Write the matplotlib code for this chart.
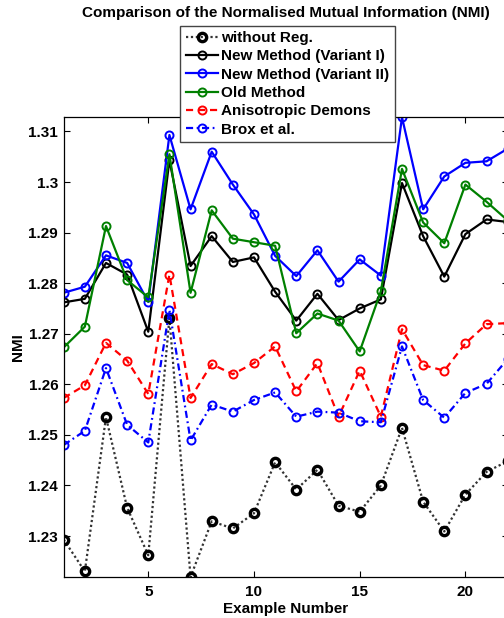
import matplotlib
matplotlib.use('Agg')
import matplotlib.pyplot as plt

examples = list(range(1, 23))
without_reg = [1.2293, 1.2230, 1.2535, 1.2356, 1.2262, 1.2731, 1.2219, 1.2329, 1.2315, 1.2345, 1.2446,
               1.2392, 1.2431, 1.2360, 1.2348, 1.2400, 1.2514, 1.2368, 1.2309, 1.2382, 1.2427, 1.2448]
variant1 = [1.2762, 1.2769, 1.2840, 1.2817, 1.2704, 1.3043, 1.2834, 1.2893, 1.2842, 1.2851, 1.2783,
            1.2726, 1.2779, 1.2727, 1.2750, 1.2768, 1.2998, 1.2893, 1.2813, 1.2897, 1.2926, 1.2921]
variant2 = [1.2781, 1.2793, 1.2855, 1.2840, 1.2763, 1.3093, 1.2946, 1.3060, 1.2995, 1.2936, 1.2854,
            1.2814, 1.2865, 1.2803, 1.2847, 1.2815, 1.3128, 1.2946, 1.3011, 1.3038, 1.3041, 1.3066]
old_method = [1.2673, 1.2714, 1.2913, 1.2806, 1.2772, 1.3055, 1.2781, 1.2944, 1.2888, 1.2881, 1.2874,
              1.2701, 1.2740, 1.2726, 1.2665, 1.2784, 1.3026, 1.2920, 1.2879, 1.2995, 1.2961, 1.2924]
aniso_demons = [1.2573, 1.2598, 1.2682, 1.2647, 1.2581, 1.2817, 1.2573, 1.2640, 1.2620, 1.2642, 1.2675,
                1.2586, 1.2642, 1.2536, 1.2627, 1.2536, 1.2709, 1.2638, 1.2627, 1.2681, 1.2719, 1.2721]
brox = [1.2480, 1.2508, 1.2632, 1.2520, 1.2485, 1.2747, 1.2489, 1.2560, 1.2546, 1.2569, 1.2584,
        1.2536, 1.2546, 1.2544, 1.2527, 1.2525, 1.2675, 1.2569, 1.2534, 1.2583, 1.2601, 1.2650]

labels = ["without Reg.", "New Method (Variant I)", "New Method (Variant II)",
          "Old Method", "Anisotropic Demons", "Brox et al."]
xticks = [5, 10, 15, 20]
yticks = [1.23, 1.24, 1.25, 1.26, 1.27, 1.28, 1.29, 1.30, 1.31]

plt.rcParams['font.family'] = ['Liberation Sans', 'DejaVu Sans']
plt.rcParams['font.weight'] = 'bold'

W, H = 504, 618
fig = plt.figure(figsize=(W / 100, H / 100), dpi=100)
left, right, top, bottom = 63.7, 507.7, 117.3, 577.0
ax = fig.add_axes([left / W, 1 - bottom / H, (right - left) / W, (bottom - top) / H])

green = (0.0, 0.5, 0.0)
lw = 1.6
ms = 5.8
mew = 1.4
fs = 11

ax.plot(examples, without_reg, linestyle=(0, (1, 1.2)), color='#333333', lw=1.6,
        marker='o', ms=6, mew=2.4, mfc='none', mec='black', label=labels[0])
ax.plot(examples, variant1, '-', color='black', lw=lw, marker='o', ms=ms, mew=mew,
        mfc='none', label=labels[1])
ax.plot(examples, variant2, '-', color='blue', lw=lw, marker='o', ms=ms, mew=mew,
        mfc='none', label=labels[2])
ax.plot(examples, old_method, '-', color=green, lw=lw, marker='o', ms=ms, mew=mew,
        mfc='none', label=labels[3])
ax.plot(examples, aniso_demons, linestyle=(0, (3.2, 2.2)), color='red', lw=lw, marker='o', ms=ms,
        mew=mew, mfc='none', label=labels[4])
ax.plot(examples, brox, linestyle=(0, (3.2, 1.6, 0.8, 1.6)), color='blue', lw=lw, marker='o', ms=ms,
        mew=mew, mfc='none', label=labels[5])

allv = without_reg + variant1 + variant2 + old_method + aniso_demons + brox
ax.set_xlim(examples[0], examples[-1])
ax.set_ylim(min(allv), max(allv))

ax.set_xticks(xticks)
ax.set_yticks(yticks)
ax.set_yticklabels([f'{v:g}' for v in yticks])
ax.tick_params(direction='in', top=True, right=True, length=4.5, width=0.8,
               labelsize=fs, pad=4)
ax.tick_params(axis='x', pad=5.5)
for t in ax.get_xticklabels() + ax.get_yticklabels():
    t.set_fontweight('bold')
for s in ax.spines.values():
    s.set_linewidth(0.9)

ax.set_xlabel('Example Number', fontsize=fs, fontweight='bold', labelpad=2.5)
ax.set_ylabel('NMI', fontsize=fs, fontweight='bold', va='center')
ax.yaxis.set_label_coords((18 - left) / (right - left), 0.5)
fig.text((left + right) / 2 / W, 1 - 13.5 / H,
         'Comparison of the Normalised Mutual Information (NMI)',
         ha='center', va='center', fontsize=fs, fontweight='bold')

leg = ax.legend(loc='upper left', bbox_to_anchor=(180 / W, 1 - 25.7 / H),
                bbox_transform=fig.transFigure, borderaxespad=0,
                frameon=True, fancybox=False, framealpha=1, edgecolor='#444444',
                handlelength=2.1, handletextpad=0.25, labelspacing=0.28,
                borderpad=0.36, numpoints=1, prop={'weight': 'bold', 'size': fs})
leg.get_frame().set_linewidth(1.0)
leg.set_zorder(10)

fig.savefig('out.png', dpi=100)
